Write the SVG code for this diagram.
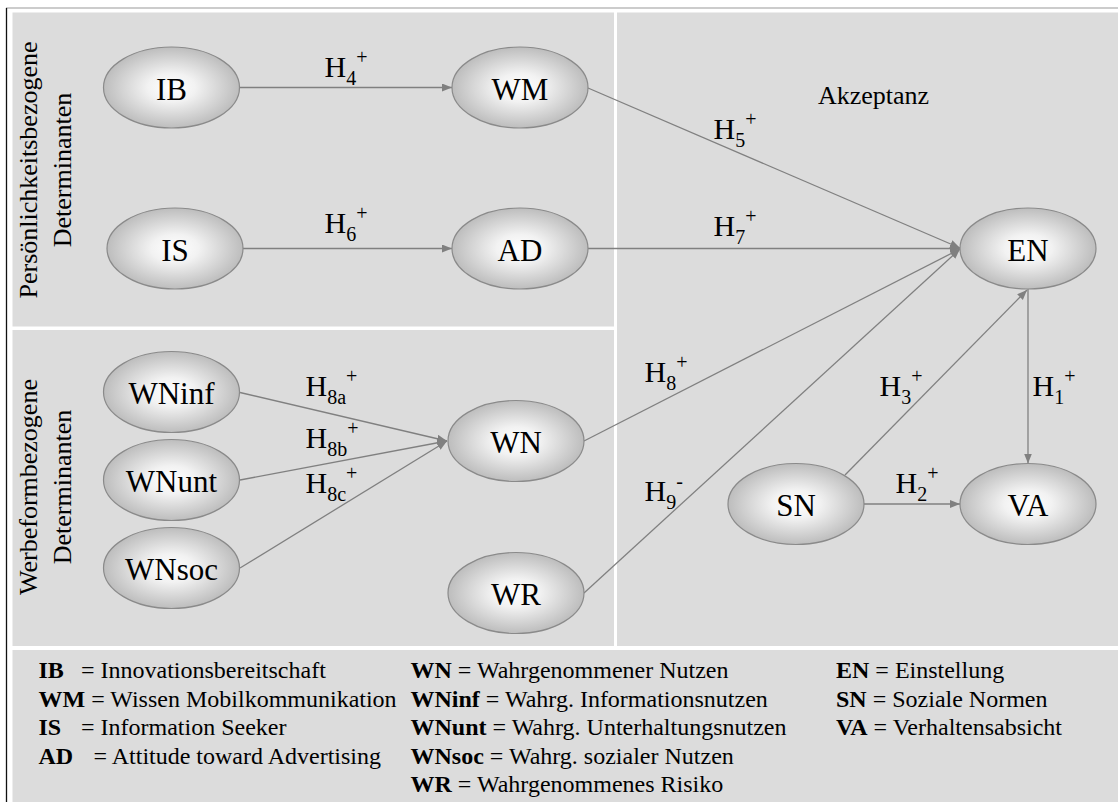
<svg xmlns="http://www.w3.org/2000/svg" width="1118" height="802" viewBox="0 0 1118 802">
<style>
text{font-family:'Liberation Serif','DejaVu Serif','Times New Roman',serif;fill:#000}
.panel{fill:#dcdcdc}
.node{fill:url(#g);stroke:#8a8a8a;stroke-width:1.2}
.nl{font-size:31px;text-anchor:middle}
.ca{stroke:#808080;stroke-width:1.3;fill:none;marker-end:url(#ah)}
.hl{font-size:30px}
.s{font-size:20px}
.t26{font-size:26px}
.lg{font-size:24px}
.b{font-weight:bold}
</style>
<defs>
<radialGradient id="g" cx="50%" cy="50%" r="50%">
<stop offset="0" stop-color="#ffffff"/>
<stop offset="0.35" stop-color="#f2f2f2"/>
<stop offset="1" stop-color="#bdbdbd"/>
</radialGradient>
<marker id="ah" markerUnits="userSpaceOnUse" markerWidth="11" markerHeight="9" refX="10" refY="4" orient="auto">
<path d="M0,0 L10,4 L0,8 z" fill="#808080"/>
</marker>
</defs>
<rect x="0" y="0" width="1118" height="802" fill="#fff"/>
<line x1="6" y1="8" x2="1118" y2="8" stroke="#9a9a9a" stroke-width="1.2"/>
<line x1="6.5" y1="8" x2="6.5" y2="802" stroke="#111" stroke-width="1.3"/>
<g id="panels">
<rect class="panel" x="12.5" y="12.5" width="601.5" height="314"/>
<rect class="panel" x="12.5" y="330" width="601.5" height="316"/>
<rect class="panel" x="617" y="12.5" width="501" height="633.5"/>
<rect class="panel" x="12.5" y="650" width="1105.5" height="152"/>
</g>
<g id="group-labels">
<text class="t26" text-anchor="middle" transform="translate(37,170) rotate(-90)">Persönlichkeitsbezogene</text>
<text class="t26" text-anchor="middle" transform="translate(71,170) rotate(-90)">Determinanten</text>
<text class="t26" text-anchor="middle" transform="translate(37,487) rotate(-90)">Werbeformbezogene</text>
<text class="t26" text-anchor="middle" transform="translate(71,487) rotate(-90)">Determinanten</text>
<text class="t26" x="818" y="104">Akzeptanz</text>
</g>
<g id="connectors">
<line class="ca" x1="240" y1="87.5" x2="452" y2="87.5"/>
<line class="ca" x1="243" y1="248.5" x2="452" y2="248.5"/>
<line class="ca" x1="588" y1="88" x2="960" y2="248"/>
<line class="ca" x1="588" y1="248.5" x2="960" y2="248.5"/>
<line class="ca" x1="584" y1="441" x2="960" y2="249"/>
<line class="ca" x1="584" y1="593" x2="960" y2="249"/>
<line class="ca" x1="845" y1="475" x2="1027" y2="290"/>
<line class="ca" x1="1028" y1="289" x2="1028" y2="463.5"/>
<line class="ca" x1="864" y1="504" x2="960" y2="504"/>
<line class="ca" x1="240" y1="392.5" x2="447" y2="441"/>
<line class="ca" x1="240" y1="480" x2="447" y2="441"/>
<line class="ca" x1="240" y1="568" x2="447" y2="441"/>
</g>
<g id="edge-labels">
<text class="hl" x="324.5" y="77">H<tspan class="s" dy="8">4</tspan><tspan class="s" dy="-21">+</tspan></text>
<text class="hl" x="324.5" y="233">H<tspan class="s" dy="8">6</tspan><tspan class="s" dy="-21">+</tspan></text>
<text class="hl" x="713.5" y="139">H<tspan class="s" dy="8">5</tspan><tspan class="s" dy="-21">+</tspan></text>
<text class="hl" x="713.5" y="236">H<tspan class="s" dy="8">7</tspan><tspan class="s" dy="-21">+</tspan></text>
<text class="hl" x="305.5" y="396">H<tspan class="s" dy="8">8a</tspan><tspan class="s" dy="-21">+</tspan></text>
<text class="hl" x="305.5" y="448">H<tspan class="s" dy="8">8b</tspan><tspan class="s" dy="-21">+</tspan></text>
<text class="hl" x="305.5" y="493">H<tspan class="s" dy="8">8c</tspan><tspan class="s" dy="-21">+</tspan></text>
<text class="hl" x="644.5" y="382">H<tspan class="s" dy="8">8</tspan><tspan class="s" dy="-21">+</tspan></text>
<text class="hl" x="644.5" y="501">H<tspan class="s" dy="8">9</tspan><tspan class="s" dy="-21">-</tspan></text>
<text class="hl" x="879.5" y="396">H<tspan class="s" dy="8">3</tspan><tspan class="s" dy="-21">+</tspan></text>
<text class="hl" x="1032.5" y="396">H<tspan class="s" dy="8">1</tspan><tspan class="s" dy="-21">+</tspan></text>
<text class="hl" x="895.5" y="493">H<tspan class="s" dy="8">2</tspan><tspan class="s" dy="-21">+</tspan></text>
</g>
<g id="node-IB"><ellipse class="node" cx="171.5" cy="87.5" rx="68" ry="40.5"/><text class="nl" x="171.5" y="99.5">IB</text></g>
<g id="node-WM"><ellipse class="node" cx="520" cy="87.5" rx="68" ry="40.5"/><text class="nl" x="520" y="99.5">WM</text></g>
<g id="node-IS"><ellipse class="node" cx="175" cy="248.5" rx="68" ry="40.5"/><text class="nl" x="175" y="260.5">IS</text></g>
<g id="node-AD"><ellipse class="node" cx="520" cy="248.5" rx="68" ry="40.5"/><text class="nl" x="520" y="260.5">AD</text></g>
<g id="node-EN"><ellipse class="node" cx="1028" cy="248.5" rx="68" ry="40.5"/><text class="nl" x="1028" y="260.5">EN</text></g>
<g id="node-WNinf"><ellipse class="node" cx="171.5" cy="392" rx="68" ry="40.5"/><text class="nl" x="171.5" y="404">WNinf</text></g>
<g id="node-WNunt"><ellipse class="node" cx="171.5" cy="480" rx="68" ry="40.5"/><text class="nl" x="171.5" y="492">WNunt</text></g>
<g id="node-WNsoc"><ellipse class="node" cx="171.5" cy="568" rx="68" ry="40.5"/><text class="nl" x="171.5" y="580">WNsoc</text></g>
<g id="node-WN"><ellipse class="node" cx="516" cy="441" rx="68" ry="40.5"/><text class="nl" x="516" y="453">WN</text></g>
<g id="node-WR"><ellipse class="node" cx="516" cy="593" rx="68" ry="40.5"/><text class="nl" x="516" y="605">WR</text></g>
<g id="node-SN"><ellipse class="node" cx="796" cy="504" rx="68" ry="40.5"/><text class="nl" x="796" y="516">SN</text></g>
<g id="node-VA"><ellipse class="node" cx="1028" cy="504" rx="68" ry="40.5"/><text class="nl" x="1028" y="516">VA</text></g>
<g id="legend">
<text class="lg" x="38.5" y="678"><tspan class="b">IB</tspan><tspan x="81">= Innovationsbereitschaft</tspan></text>
<text class="lg" x="38.5" y="706.5"><tspan class="b">WM</tspan> = Wissen Mobilkommunikation</text>
<text class="lg" x="38.5" y="735"><tspan class="b">IS</tspan><tspan x="81">= Information Seeker</tspan></text>
<text class="lg" x="38.5" y="763.5"><tspan class="b">AD</tspan><tspan x="93.5">= Attitude toward Advertising</tspan></text>
<text class="lg" x="410.5" y="678"><tspan class="b">WN</tspan> = Wahrgenommener Nutzen</text>
<text class="lg" x="410.5" y="706.5"><tspan class="b">WNinf</tspan> = Wahrg. Informationsnutzen</text>
<text class="lg" x="410.5" y="735"><tspan class="b">WNunt</tspan> = Wahrg. Unterhaltungsnutzen</text>
<text class="lg" x="410.5" y="763.5"><tspan class="b">WNsoc</tspan> = Wahrg. sozialer Nutzen</text>
<text class="lg" x="410.5" y="792"><tspan class="b">WR</tspan> = Wahrgenommenes Risiko</text>
<text class="lg" x="836" y="678"><tspan class="b">EN</tspan> = Einstellung</text>
<text class="lg" x="836" y="706.5"><tspan class="b">SN</tspan> = Soziale Normen</text>
<text class="lg" x="836" y="735"><tspan class="b">VA</tspan> = Verhaltensabsicht</text>
</g>
</svg>
